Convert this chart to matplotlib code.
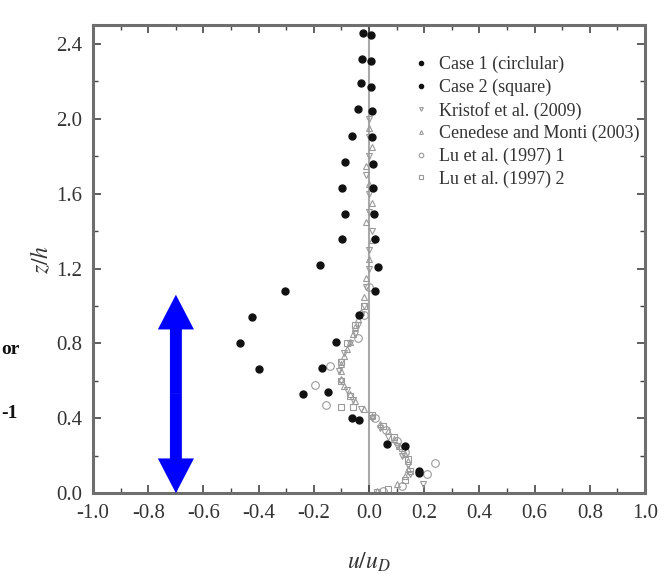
import matplotlib
matplotlib.use("Agg")
import matplotlib.pyplot as plt

plt.rcParams['font.family'] = ['Liberation Serif', 'DejaVu Serif']
plt.rcParams['mathtext.fontset'] = 'stix'

# Case 1 (circular) - profile near zero
case1_u = [0.007, 0.007, 0.007, 0.010, 0.010, 0.013, 0.016, 0.018, 0.022, 0.031, 0.022,
           -0.035, -0.12, -0.17, -0.15, -0.035, 0.13, 0.182]
case1_z = [2.45, 2.31, 2.17, 2.04, 1.90, 1.76, 1.63, 1.49, 1.36, 1.21, 1.08,
           0.95, 0.81, 0.67, 0.54, 0.39, 0.25, 0.11]
# Case 2 (square) - strongly deflected profile
case2_u = [-0.023, -0.027, -0.030, -0.039, -0.063, -0.089, -0.099, -0.089, -0.099, -0.178,
           -0.304, -0.425, -0.467, -0.40, -0.238, -0.063, 0.066, 0.182]
case2_z = [2.46, 2.32, 2.19, 2.05, 1.91, 1.77, 1.63, 1.49, 1.36, 1.22,
           1.08, 0.94, 0.80, 0.665, 0.53, 0.40, 0.26, 0.12]

kristof_u = [0.196, 0.15, 0.14, 0.12, 0.10, 0.07, 0.04, 0.01, -0.03, -0.06, -0.08, -0.10,
             -0.11, -0.10, -0.09, -0.07, -0.05, -0.04, -0.03, -0.02, -0.01, 0.0, 0.0,
             0.01, 0.0, 0.0, -0.01, 0.0, 0.0, 0.0]
kristof_z = [0.05, 0.10, 0.15, 0.20, 0.25, 0.30, 0.35, 0.40, 0.45, 0.50, 0.55, 0.60,
             0.65, 0.70, 0.75, 0.80, 0.85, 0.90, 0.95, 1.00, 1.10, 1.20, 1.30,
             1.40, 1.50, 1.60, 1.70, 1.80, 1.90, 2.00]

cenedese_u = [0.03, 0.10, 0.13, 0.14, 0.14, 0.13, 0.11, 0.09, 0.07, 0.04, 0.01, -0.02,
              -0.05, -0.07, -0.09, -0.10, -0.10, -0.10, -0.09, -0.08, -0.07, -0.06,
              -0.05, -0.04, -0.03, -0.02, -0.01, 0.00, 0.01, -0.01, 0.01, 0.0, -0.01,
              0.01, 0.0]
cenedese_z = [0.01, 0.05, 0.09, 0.13, 0.17, 0.21, 0.25, 0.29, 0.33, 0.37, 0.41, 0.45,
              0.49, 0.53, 0.57, 0.61, 0.65, 0.69, 0.73, 0.77, 0.81, 0.85,
              0.89, 0.93, 0.97, 1.05, 1.15, 1.25, 1.35, 1.45, 1.55, 1.65, 1.75,
              1.85, 1.95]

lu1_u = [0.05, 0.12, 0.21, 0.24, 0.13, 0.10, 0.06, 0.02, -0.156, -0.196, -0.14, -0.04,
         -0.02, 0.0]
lu1_z = [0.01, 0.04, 0.10, 0.16, 0.22, 0.28, 0.34, 0.40, 0.47, 0.58, 0.68, 0.83,
         0.95, 1.10]

lu2_u = [0.028, 0.07, 0.13, 0.15, 0.14, 0.12, 0.09, 0.05, 0.01, -0.10, -0.06, -0.07,
         -0.10, -0.10, -0.08, -0.05, -0.02]
lu2_z = [0.007, 0.02, 0.07, 0.12, 0.18, 0.24, 0.30, 0.36, 0.42, 0.46, 0.46, 0.52,
         0.60, 0.70, 0.80, 0.90, 1.00]

xticks = [-1.0, -0.8, -0.6, -0.4, -0.2, 0.0, 0.2, 0.4, 0.6, 0.8, 1.0]
yticks = [0.0, 0.4, 0.8, 1.2, 1.6, 2.0, 2.4]

gray = '#9a9a9a'

fig = plt.figure(figsize=(6.65, 5.85), dpi=100)
ax = fig.add_axes([0.14, 0.157, 0.83, 0.8])

ax.axvline(0, color='#a8a8a8', lw=1.5, zorder=1)

ax.plot(kristof_u, kristof_z, 'v', ms=4.5, mfc='none', mec=gray, mew=0.8,
        label='Kristof et al. (2009)', zorder=2)
ax.plot(cenedese_u, cenedese_z, '^', ms=4.5, mfc='none', mec=gray, mew=0.8,
        label='Cenedese and Monti (2003)', zorder=2)
ax.plot(lu1_u, lu1_z, 'o', ms=5.5, mfc='none', mec=gray, mew=0.8,
        label='Lu et al. (1997) 1', zorder=2)
ax.plot(lu2_u, lu2_z, 's', ms=4, mfc='none', mec=gray, mew=0.8,
        label='Lu et al. (1997) 2', zorder=2)
ax.plot(case1_u, case1_z, 'o', ms=5, color='#111111', label='Case 1 (circlular)', zorder=3)
ax.plot(case2_u, case2_z, 'o', ms=5, color='#111111', label='Case 2 (square)', zorder=3)

handles, labels = ax.get_legend_handles_labels()
order = [4, 5, 0, 1, 2, 3]
leg = ax.legend([handles[i] for i in order], [labels[i] for i in order],
                loc='upper right', bbox_to_anchor=(1.01, 0.957), frameon=False,
                fontsize=13, labelspacing=0.3, handlelength=0.8, handletextpad=0.6,
                markerscale=0.6, borderaxespad=0.2)
for t in leg.get_texts():
    t.set_color('#333333')

# blue double-headed arrow
arrow_x = -0.7
arrow_bottom = 0.0
arrow_top = 1.06
arrow_mid = (arrow_bottom + arrow_top) / 2
style = "simple,head_length=25,head_width=26,tail_width=8.6"
for end in (arrow_top, arrow_bottom):
    ax.annotate('', xy=(arrow_x, end), xytext=(arrow_x, arrow_mid),
                arrowprops=dict(arrowstyle=style, mutation_scale=1, color='#0000ff',
                                lw=0, shrinkA=0, shrinkB=0),
                annotation_clip=False, zorder=5)

ax.set_xlim(-1.0, 1.0)
ax.set_ylim(0.0, 2.5)
ax.set_xticks(xticks)
ax.set_yticks(yticks)
ax.set_xticks([-0.9, -0.7, -0.5, -0.3, -0.1, 0.1, 0.3, 0.5, 0.7, 0.9], minor=True)
ax.set_yticks([0.2, 0.6, 1.0, 1.4, 1.8, 2.2], minor=True)
ax.set_xticklabels(['%.1f' % v for v in xticks])
ax.set_yticklabels(['%.1f' % v for v in yticks])

ax.tick_params(which='both', direction='in', top=True, right=True, colors='#444444',
               labelcolor='#333333', labelsize=15)
ax.tick_params(which='major', length=6, width=1.2, pad=8)
ax.tick_params(which='minor', length=3.5, width=1.0)
for s in ax.spines.values():
    s.set_color('#6e6e6e')
    s.set_linewidth(2.2)

ax.set_xlabel('$u/u_D$', fontsize=17, color='#333333', labelpad=20)
ax.set_ylabel('$z/h$', fontsize=17, color='#333333', labelpad=2)

# fragments of neighbouring text at the left edge
fig.text(1 / 665, 1 - 350 / 585, 'or', ha='left', va='center', fontsize=14,
         fontweight='bold', color='#111111')
fig.text(1 / 665, 1 - 413 / 585, '-1', ha='left', va='center', fontsize=14,
         fontweight='bold', color='#111111')

fig.savefig('out.png', dpi=100)
